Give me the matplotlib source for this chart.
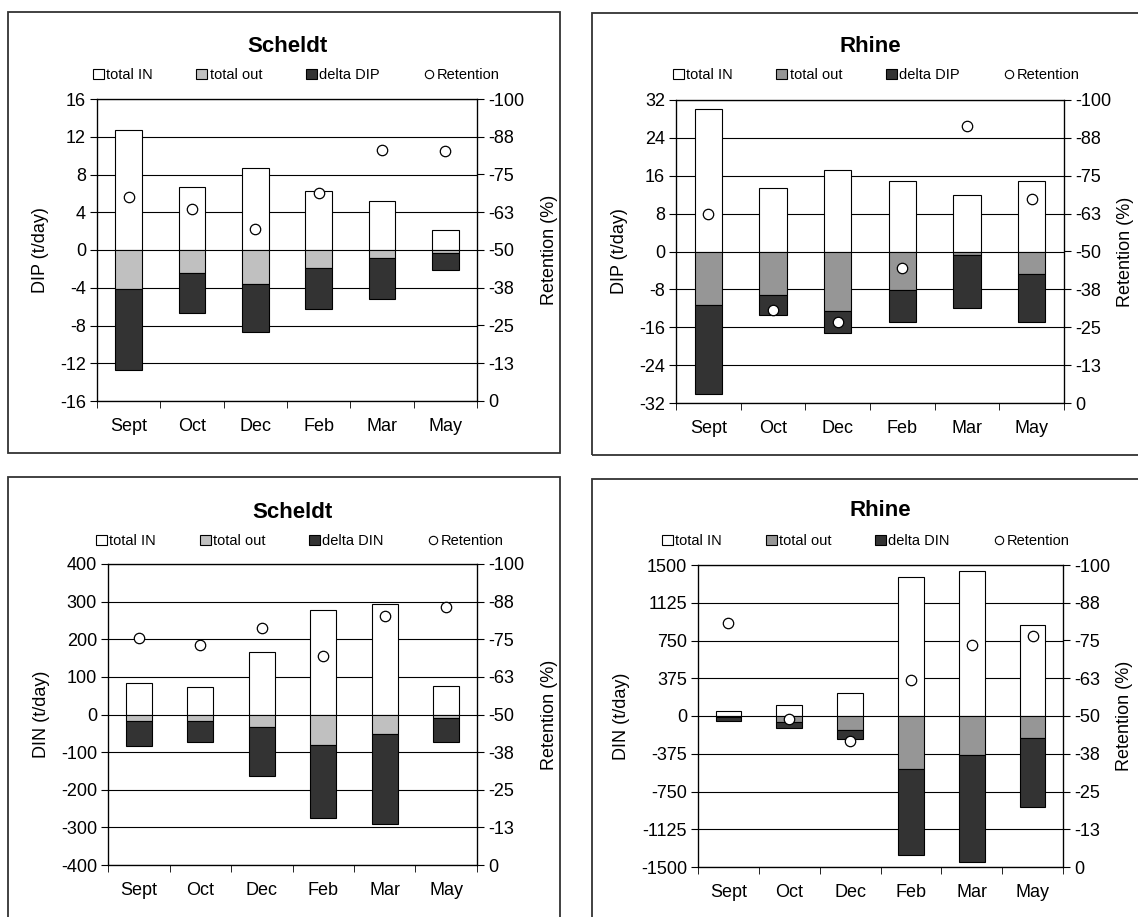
import numpy as np
import matplotlib
matplotlib.use('Agg')
import matplotlib.pyplot as plt
from matplotlib.patches import Patch, Rectangle
from matplotlib.lines import Line2D

plt.rcParams['font.family'] = ['Liberation Sans', 'DejaVu Sans']
plt.rcParams['axes.unicode_minus'] = False

months = ['Sept', 'Oct', 'Dec', 'Feb', 'Mar', 'May']

# Scheldt DIP (t/day)
sch_dip_in = [12.7, 6.7, 8.7, 6.3, 5.2, 2.1]
sch_dip_out = [4.1, 2.4, 3.6, 1.9, 0.9, 0.3]
sch_dip_delta = [8.6, 4.3, 5.1, 4.4, 4.3, 1.8]
sch_dip_ret = [-67.5, -63.6, -57.1, -68.9, -83.2, -82.9]

# Rhine DIP (t/day)
rh_dip_in = [30.1, 13.4, 17.3, 14.9, 12.0, 14.9]
rh_dip_out = [11.3, 9.1, 12.5, 8.2, 0.8, 4.8]
rh_dip_delta = [18.7, 4.3, 4.7, 6.6, 11.1, 10.0]
rh_dip_ret = [-62.3, -30.7, -26.8, -44.4, -91.5, -67.3]

# Scheldt DIN (t/day)
sch_din_in = [85, 73, 165, 279, 294, 76]
sch_din_out = [18, 18, 33, 81, 52, 9]
sch_din_delta = [65, 54, 130, 195, 240, 65]
sch_din_ret = [-75.3, -73.1, -78.8, -69.6, -82.6, -85.7]

# Rhine DIN (t/day)
rh_din_in = [47, 109, 225, 1377, 1444, 907]
rh_din_out = [5, 56, 139, 526, 387, 218]
rh_din_delta = [41, 63, 93, 858, 1063, 689]
rh_din_ret = [-80.9, -49.0, -41.8, -61.8, -73.4, -76.4]

ret_ticks = [0, -12.5, -25, -37.5, -50, -62.5, -75, -87.5, -100]
ret_labels = ['0', '-13', '-25', '-38', '-50', '-63', '-75', '-88', '-100']

W, H = 1138, 917
fig = plt.figure(figsize=(W / 100, H / 100), dpi=100)


def fx(px):
    return px / W


def fy(py):
    return 1 - py / H


def panel(box, frame, title, title_y, leg_xy, ylabel, lim, step,
          v_in, v_out, v_delta, v_ret, out_color, delta_name, rpad=12):
    x0, y0, x1, y1 = box
    # outer frame like the chart-area border
    fig.patches.append(Rectangle((fx(frame[0]), fy(frame[3])),
                                 fx(frame[2] - frame[0]), (frame[3] - frame[1]) / H,
                                 transform=fig.transFigure, fill=False,
                                 edgecolor='#333333', linewidth=1.3))
    ax = fig.add_axes([fx(x0), fy(y1), fx(x1 - x0), (y1 - y0) / H])
    x = np.arange(len(months))
    w = 0.42
    out_neg = -np.array(v_out)
    ax.bar(x, v_in, w, color='white', edgecolor='black', linewidth=0.8, zorder=2)
    ax.bar(x, out_neg, w, color=out_color, edgecolor='black', linewidth=0.8, zorder=2)
    ax.bar(x, -np.array(v_delta), w, bottom=out_neg, color='#333333',
           edgecolor='black', linewidth=0.8, zorder=2)

    ax.set_xlim(-0.5, len(months) - 0.5)
    ax.set_ylim(-lim, lim)
    ax.set_yticks(np.arange(-lim, lim + step / 2, step))
    ax.yaxis.grid(True, color='black', linewidth=0.8)
    ax.set_axisbelow(True)
    ax.set_xticks(x)
    ax.set_xticklabels(months)
    ax.set_xticks(np.arange(-0.5, len(months), 1), minor=True)
    ax.tick_params(axis='x', which='major', length=0, pad=12, labelsize=13)
    ax.tick_params(axis='x', which='minor', length=5, direction='out')
    ax.tick_params(axis='y', length=5, direction='out', labelsize=13, pad=3)
    ax.set_ylabel(ylabel, fontsize=13, labelpad=8)
    for s in ax.spines.values():
        s.set_linewidth(0.9)

    ax2 = ax.twinx()
    ax2.set_ylim(0, -100)
    ax2.set_yticks(ret_ticks)
    ax2.set_yticklabels(ret_labels)
    ax2.tick_params(axis='y', length=5, direction='out', labelsize=13, pad=3)
    ax2.plot(x, v_ret, 'o', markersize=7.5, markerfacecolor='white',
             markeredgecolor='black', markeredgewidth=0.9, zorder=5)
    ax2.set_ylabel('Retention (%)', fontsize=13, rotation=90, labelpad=rpad)

    fig.text(fx((x0 + x1) / 2), fy(title_y), title, ha='center', va='center',
             fontsize=16, fontweight='bold')

    handles = [Patch(facecolor='white', edgecolor='black', linewidth=0.8),
               Patch(facecolor=out_color, edgecolor='black', linewidth=0.8),
               Patch(facecolor='#333333', edgecolor='black', linewidth=0.8),
               Line2D([], [], marker='o', linestyle='none', markersize=6,
                      markerfacecolor='white', markeredgecolor='black',
                      markeredgewidth=0.8)]
    ax2.legend(handles, ['total IN', 'total out', delta_name, 'Retention'],
               loc='center', bbox_to_anchor=(fx(leg_xy[0]), fy(leg_xy[1])),
               bbox_transform=fig.transFigure, ncol=4, frameon=False,
               fontsize=10.5, handlelength=0.75, handleheight=0.75,
               handletextpad=0.15, columnspacing=3.0, borderpad=0)
    return ax


panel((97, 99, 477, 401), (8, 12, 560, 453), 'Scheldt', 46, (296, 75),
      'DIP (t/day)', 16, 4, sch_dip_in, sch_dip_out, sch_dip_delta,
      sch_dip_ret, '#c0c0c0', 'delta DIP')
panel((676, 100, 1064, 403), (592, 13, 1160, 455), 'Rhine', 46, (876, 75),
      'DIP (t/day)', 32, 8, rh_dip_in, rh_dip_out, rh_dip_delta,
      rh_dip_ret, '#969696', 'delta DIP', rpad=4)
panel((108, 564, 477, 865), (8, 477, 560, 940), 'Scheldt', 513, (300, 541),
      'DIN (t/day)', 400, 100, sch_din_in, sch_din_out, sch_din_delta,
      sch_din_ret, '#c0c0c0', 'delta DIN')
panel((698, 565, 1063, 867), (592, 479, 1160, 940), 'Rhine', 511, (866, 541),
      'DIN (t/day)', 1500, 375, rh_din_in, rh_din_out, rh_din_delta,
      rh_din_ret, '#969696', 'delta DIN', rpad=4)

fig.savefig('out.png', dpi=100, facecolor='white')
